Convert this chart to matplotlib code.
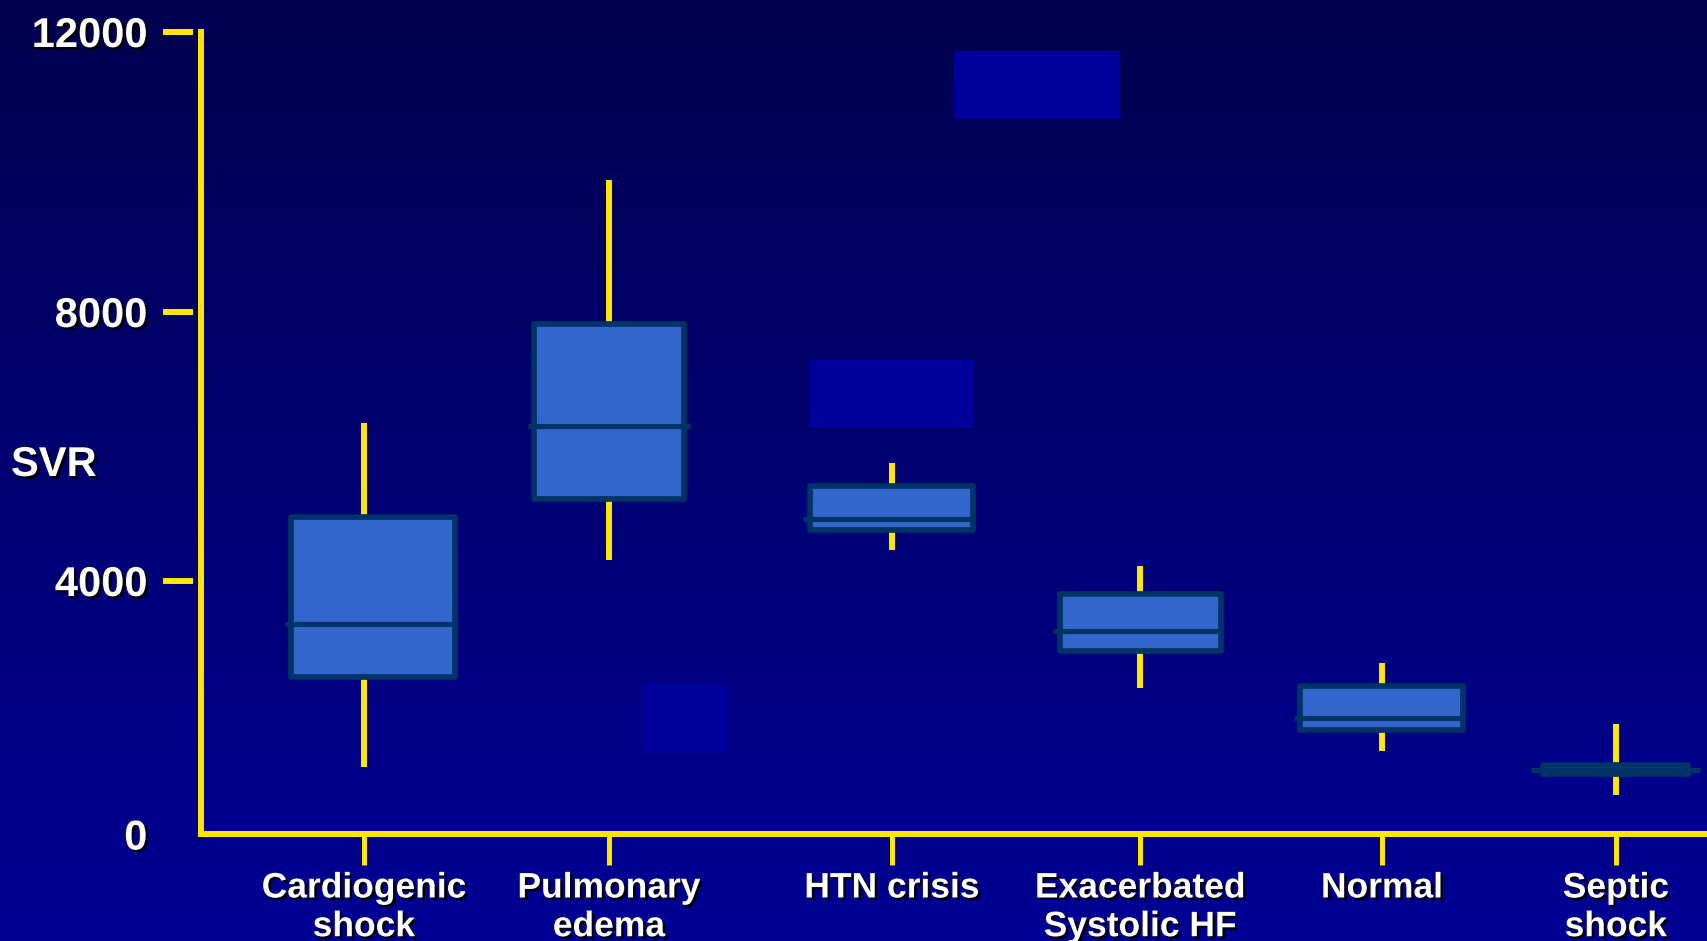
import numpy as np
import matplotlib
matplotlib.use("Agg")
import matplotlib.pyplot as plt
import matplotlib.patheffects as pe
from matplotlib.colors import LinearSegmentedColormap
from matplotlib.patches import Rectangle

# SVR spread per condition (box = quartiles, yellow lines = range)
categories = ["Cardiogenic\nshock", "Pulmonary\nedema", "HTN crisis",
              "Exacerbated\nSystolic HF", "Normal", "Septic\nshock"]
whisker_low = [1050, 4300, 4450, 2300, 1310, 610]
q1 = [2480, 5210, 4750, 2890, 1640, 945]
median = [3320, 6300, 4920, 3210, 1830, 1010]
q3 = [4950, 7810, 5410, 3780, 2340, 1090]
whisker_high = [6340, 9880, 5750, 4220, 2700, 1740]
svr_ticks = [0, 4000, 8000, 12000]

# layout
W, H = 1708, 941
xpos = [0.663, 1.663, 2.818, 3.831, 4.818, 5.773]
box_shift = [0.037, 0.0, 0.0, 0.0, 0.0, 0.0]
box_w = [0.673, 0.612, 0.665, 0.657, 0.665, 0.592]
med_ext_left = [0.022, 0.025, 0.029, 0.025, 0.027, 0.049]
med_ext_right = [0.0, 0.025, 0.0, 0.0, 0.0, 0.049]
# the hand-drawn axis is not evenly spaced: height (px) of each tick above the x axis
tick_height = [0, 253.5, 522.5, 802.5]

yellow = "#FFE600"
box_face = "#3366CC"
box_edge = "#003366"
shadow = [pe.SimplePatchShadow(offset=(1.8, -1.8), shadow_rgbFace="black", alpha=0.9),
          pe.Normal()]

fig = plt.figure(figsize=(W / 100, H / 100), dpi=100)

# gradient backdrop
bg = fig.add_axes([0, 0, 1, 1], zorder=-10)
grad = np.linspace(0, 1, 256)[:, None]
bg.imshow(grad, aspect="auto", extent=[0, 1, 0, 1], origin="upper",
          cmap=LinearSegmentedColormap.from_list("bg", ["#00004E", "#000094"]))
for x0, y0, x1, y1 in [(954, 51, 1120, 119), (809, 360, 974, 428), (641, 684, 727, 753)]:
    bg.add_patch(Rectangle((x0 / W, 1 - y1 / H), (x1 - x0) / W, (y1 - y0) / H,
                           facecolor="#00009C", edgecolor="none"))
bg.set_xlim(0, 1)
bg.set_ylim(0, 1)
bg.axis("off")

ax = fig.add_axes([201.5 / W, 1 - 834 / H, 1 - 201.5 / W, (834 - 31.5) / H])
ax.patch.set_alpha(0)
ax.set_yscale("function",
              functions=(lambda v: np.interp(v, svr_ticks, tick_height),
                         lambda p: np.interp(p, tick_height, svr_ticks)))

stats = [dict(med=m, q1=a, q3=b, whislo=lo, whishi=hi, fliers=[])
         for m, a, b, lo, hi in zip(median, q1, q3, whisker_low, whisker_high)]
box_pos = [x + s for x, s in zip(xpos, box_shift)]
art = ax.bxp(stats, positions=box_pos, widths=box_w, patch_artist=True,
             showcaps=False, showfliers=False, manage_ticks=False,
             boxprops=dict(facecolor=box_face, edgecolor=box_edge, linewidth=4.1,
                           joinstyle="round", zorder=3),
             whiskerprops=dict(color=yellow, linewidth=4.3, solid_capstyle="butt", zorder=2),
             medianprops=dict(color=box_edge, linewidth=3.7, solid_capstyle="butt", zorder=4))
for line, el, er in zip(art["medians"], med_ext_left, med_ext_right):
    x = line.get_xdata()
    line.set_xdata([x[0] - el, x[1] + er])
# whiskers stay on the category tick even where the box is nudged
for i, line in enumerate(art["whiskers"]):
    line.set_xdata([xpos[i // 2]] * 2)

# y tick dashes stand off the axis a little
ax.hlines(svr_ticks[1:], -0.0256, -0.0056, transform=ax.get_yaxis_transform(),
          colors=yellow, linewidth=4.3, clip_on=False)

ax.set_xlim(0, 6.149)
ax.set_ylim(0, 12000)

for side in ["top", "right"]:
    ax.spines[side].set_visible(False)
for side in ["left", "bottom"]:
    ax.spines[side].set_color(yellow)
    ax.spines[side].set_linewidth(4.3)

ax.set_yticks(svr_ticks)
ax.set_xticks(xpos, categories)
ax.tick_params(axis="y", length=0, pad=39, labelcolor="white")
ax.tick_params(axis="x", length=22, width=3.6, color=yellow, pad=5, labelcolor="white")

for lbl in ax.get_yticklabels():
    lbl.set_fontsize(30)
    lbl.set_fontweight("bold")
    lbl.set_family("Liberation Sans")
    lbl.set_path_effects(shadow)
for lbl in ax.get_xticklabels():
    lbl.set_fontsize(25.5)
    lbl.set_fontweight("bold")
    lbl.set_family("Liberation Sans")
    lbl.set_linespacing(1.22)
    lbl.set_path_effects(shadow)

fig.text(11 / W, 1 - 465 / H, "SVR", ha="left", va="center", fontsize=30,
         fontweight="bold", family="Liberation Sans", color="white", path_effects=shadow)

fig.savefig("out.png", dpi=100)
